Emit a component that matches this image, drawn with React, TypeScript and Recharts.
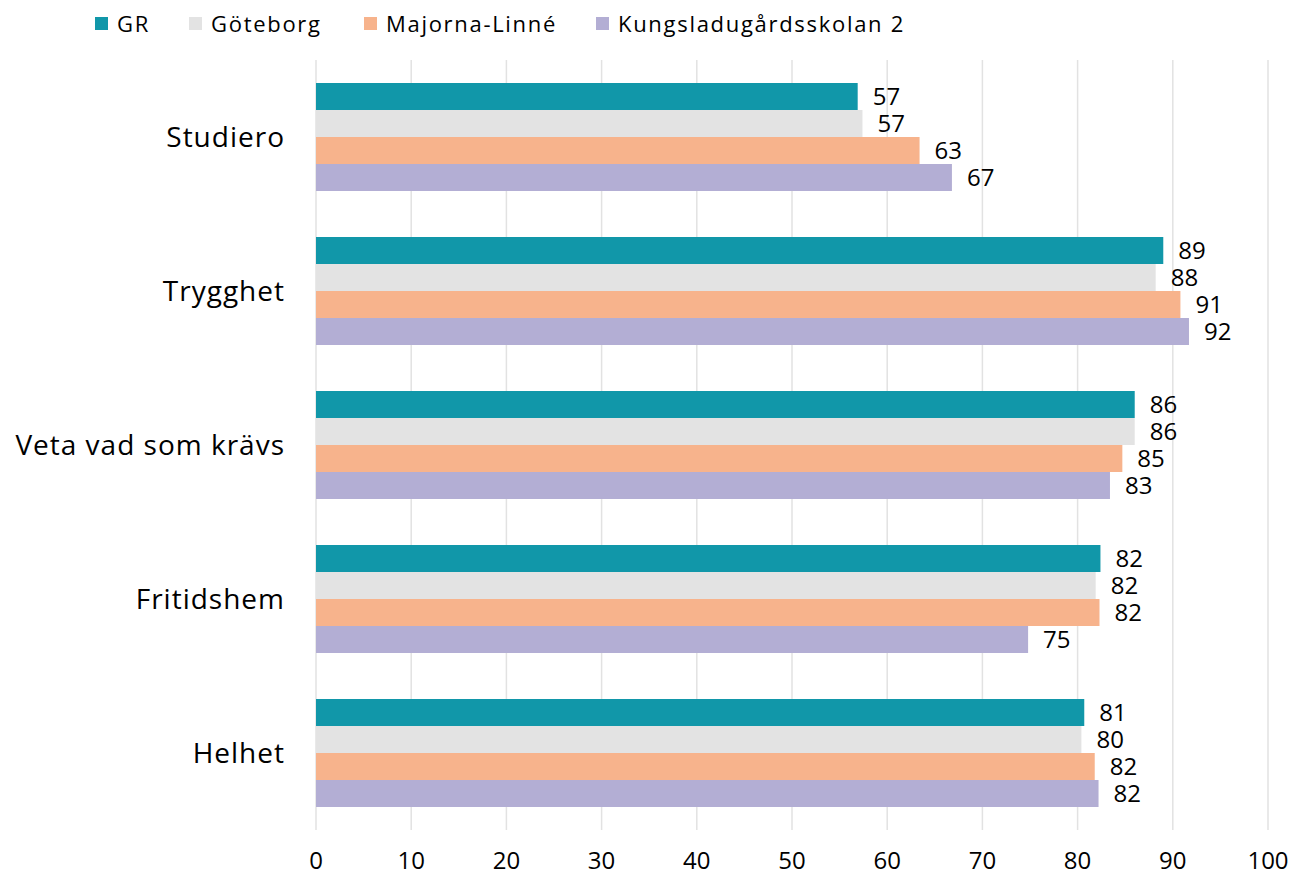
import React from "react";
import {
  BarChart,
  Bar,
  XAxis,
  YAxis,
  CartesianGrid,
  Legend,
  LabelList,
} from "recharts";

const categories = ["Studiero", "Trygghet", "Veta vad som krävs", "Fritidshem", "Helhet"];
const grValues = [56.9, 89.0, 86.0, 82.4, 80.7];
const goteborgValues = [57.4, 88.2, 86.0, 81.9, 80.4];
const majornaValues = [63.4, 90.8, 84.7, 82.3, 81.8];
const kungsValues = [66.8, 91.7, 83.4, 74.8, 82.2];
const xTicks = [0, 10, 20, 30, 40, 50, 60, 70, 80, 90, 100];

const seriesNames = ["GR", "Göteborg", "Majorna-Linné", "Kungsladugårdsskolan 2"];
const seriesKeys = ["gr", "goteborg", "majorna", "kungs"];
const seriesColors = ["#1197a9", "#e3e3e3", "#f7b38c", "#b3aed4"];

const data = categories.map((c, i) => ({
  category: c,
  gr: grValues[i],
  goteborg: goteborgValues[i],
  majorna: majornaValues[i],
  kungs: kungsValues[i],
}));

const FONT = "'Open Sans', sans-serif";

const legendPositions = [95, 189, 364, 596];

const CustomLegend = () => (
  <div style={{ position: "relative", width: 1291, height: 50, fontFamily: FONT }}>
    {seriesNames.map((n, i) => (
      <div
        key={n}
        style={{
          position: "absolute",
          left: legendPositions[i],
          top: 8,
          display: "flex",
          alignItems: "center",
          fontSize: 22,
          letterSpacing: 1.7,
          color: "#000",
          whiteSpace: "nowrap",
        }}
      >
        <span
          style={{
            display: "inline-block",
            width: 13,
            height: 13,
            background: seriesColors[i],
            marginRight: 9,
          }}
        />
        {n}
      </div>
    ))}
  </div>
);

export default function App() {
  return (
    <div style={{ position: "absolute", left: 0, top: 0, width: 1291, height: 876, background: "#fff" }}>
      <BarChart
        width={1291}
        height={876}
        data={data}
        layout="vertical"
        margin={{ top: 10, right: 23, left: 0, bottom: 0 }}
        barSize={27}
        barGap={0}
      >
        <CartesianGrid horizontal={false} vertical={true} stroke="#e2e2e2" strokeWidth={1.5} />
        <Legend
          verticalAlign="top"
          height={50}
          content={<CustomLegend />}
          wrapperStyle={{ left: 0, top: 0, width: 1291 }}
        />
        <XAxis
          type="number"
          domain={[0, 100]}
          ticks={xTicks}
          axisLine={false}
          tickLine={false}
          tickSize={0}
          tickMargin={22}
          height={46}
          interval={0}
          tick={{ fontSize: 24, fill: "#000", fontFamily: FONT }}
        />
        <YAxis
          yAxisId="frame"
          type="number"
          domain={[0, 5]}
          ticks={[0, 1, 2, 3, 4, 5]}
          width={0}
          tick={false}
          tickSize={10}
          tickLine={{ stroke: "#d9d9d9", strokeWidth: 1.5 }}
          axisLine={{ stroke: "#d9d9d9", strokeWidth: 1.5 }}
        />
        <YAxis
          type="category"
          dataKey="category"
          width={316}
          axisLine={false}
          tickLine={false}
          tickSize={0}
          tickMargin={31}
          interval={0}
          tick={{ fontSize: 28, fill: "#000", fontFamily: FONT, letterSpacing: 1 }}
        />
        {seriesKeys.map((k, i) => (
          <Bar key={k} dataKey={k} name={seriesNames[i]} fill={seriesColors[i]} isAnimationActive={false}>
            <LabelList
              dataKey={k}
              position="right"
              offset={15}
              formatter={(v: any) => Math.round(Number(v))}
              style={{ fontSize: 24, fill: "#000", fontFamily: FONT }}
            />
          </Bar>
        ))}
      </BarChart>
    </div>
  );
}
